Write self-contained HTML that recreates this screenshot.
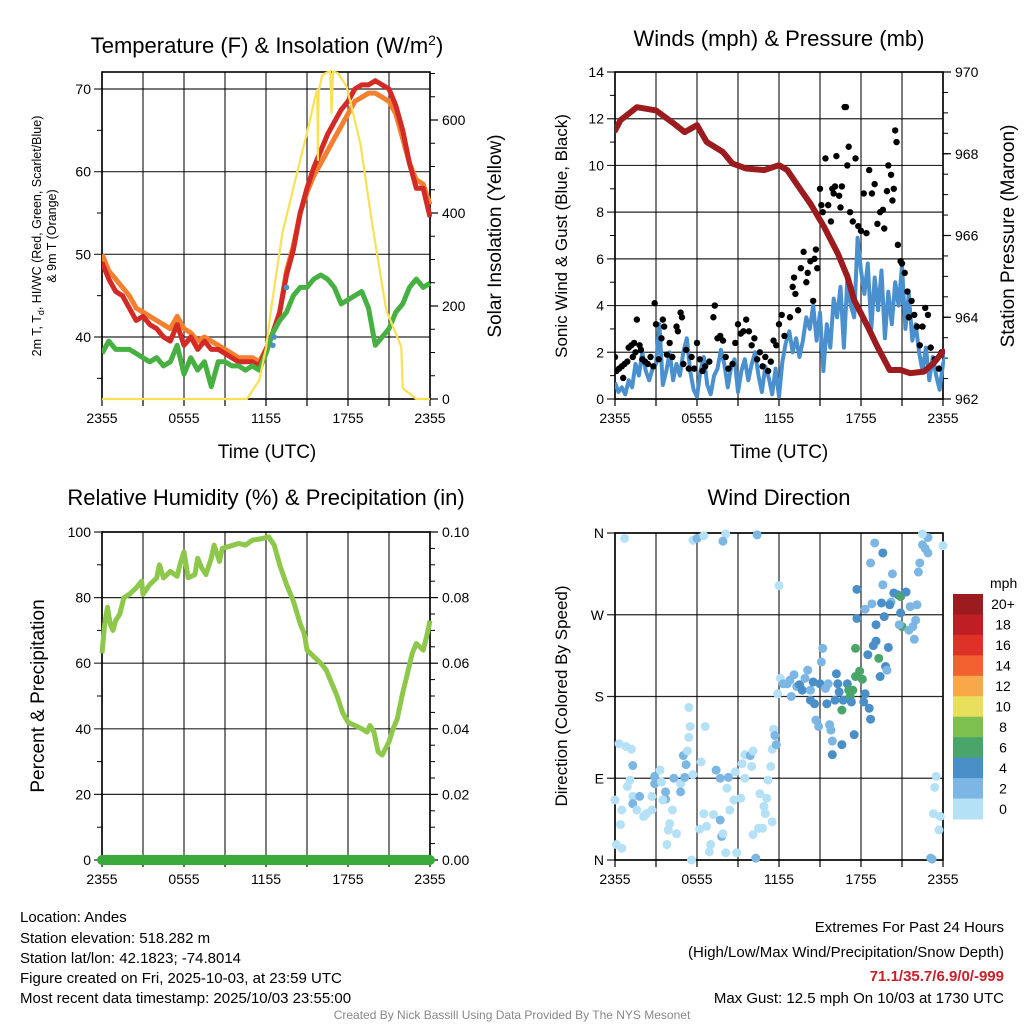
<!DOCTYPE html>
<html><head><meta charset="utf-8"><style>
html,body{margin:0;padding:0;background:#fff;}
svg{display:block;font-family:"Liberation Sans",Arial,sans-serif;}
</style></head><body>
<svg id="c" width="1024" height="1024" viewBox="0 0 1024 1024">
<rect width="1024" height="1024" fill="#fff"/>
<text x="267" y="53" font-size="22" text-anchor="middle">Temperature (F) &amp; Insolation (W/m<tspan dy="-8" font-size="14">2</tspan><tspan dy="8">)</tspan></text>
<text x="779" y="46" font-size="22" text-anchor="middle">Winds (mph) &amp; Pressure (mb)</text>
<text x="266" y="505" font-size="22" text-anchor="middle">Relative Humidity (%) &amp; Precipitation (in)</text>
<text x="779" y="505" font-size="22" text-anchor="middle">Wind Direction</text>
<text transform="translate(41,236) rotate(-90)" font-size="12.5" text-anchor="middle">2m T, T<tspan dy="3" font-size="9">d</tspan><tspan dy="-3">, HI/WC (Red, Green, Scarlet/Blue)</tspan></text>
<text transform="translate(56,236) rotate(-90)" font-size="12.5" text-anchor="middle">&amp; 9m T (Orange)</text>
<text transform="translate(501,236) rotate(-90)" font-size="19" text-anchor="middle">Solar Insolation (Yellow)</text>
<text transform="translate(567,236) rotate(-90)" font-size="17" text-anchor="middle">Sonic Wind &amp; Gust (Blue, Black)</text>
<text transform="translate(1014,236) rotate(-90)" font-size="19" text-anchor="middle">Station Pressure (Maroon)</text>
<text transform="translate(44,696) rotate(-90)" font-size="19" text-anchor="middle">Percent &amp; Precipitation</text>
<text transform="translate(567,696) rotate(-90)" font-size="17" text-anchor="middle">Direction (Colored By Speed)</text>
<text x="267" y="458" font-size="19" text-anchor="middle">Time (UTC)</text>
<text x="779" y="458" font-size="19" text-anchor="middle">Time (UTC)</text>
<g font-size="15">
<text x="20" y="922">Location: Andes</text>
<text x="20" y="943">Station elevation: 518.282 m</text>
<text x="20" y="963">Station lat/lon: 42.1823; -74.8014</text>
<text x="20" y="983">Figure created on Fri, 2025-10-03, at 23:59 UTC</text>
<text x="20" y="1003">Most recent data timestamp: 2025/10/03 23:55:00</text>
</g>
<g font-size="15" text-anchor="end">
<text x="1004" y="932">Extremes For Past 24 Hours</text>
<text x="1004" y="957">(High/Low/Max Wind/Precipitation/Snow Depth)</text>
<text x="1004" y="981" fill="#c8202a" font-weight="bold">71.1/35.7/6.9/0/-999</text>
<text x="1004" y="1003">Max Gust: 12.5 mph On 10/03 at 1730 UTC</text>
</g>
<text x="512" y="1019" font-size="12" fill="#888" text-anchor="middle">Created By Nick Bassill Using Data Provided By The NYS Mesonet</text>
</svg>
<script>
// ---- data ----
const tHalf = [0,0.5,1,1.5,2,2.5,3,3.5,4,4.5,5,5.5,6,6.5,7,7.5,8,8.5,9,9.5,10,10.5,11,11.5,12,12.5,13,13.5,14,14.5,15,15.5,16,16.5,17,17.5,18,18.5,19,19.5,20,20.5,21,21.5,22,22.5,23,23.5,24];
const temp2m = [49,47,45.5,45,43.5,42,42.5,41.5,41,40,39.5,41.5,39,40,38.5,39.5,38.5,38.5,38,37.5,37,37,37,36.5,38.5,40.5,43,47.5,50.5,55,58,60.5,62.5,64.5,66,67.5,68.5,70,70.5,70.5,71,70.5,70,68,65,61,58,58,54.5];
const temp9m = [50,48,47,46,45,43.5,43,42.5,42,41.5,41,42.5,41,40.5,39.5,40,39.5,39,38.5,38,37.5,37.5,37.5,37,38.5,40.5,43,48,51,55,57.5,59.5,61,62.5,64,65.5,67,68.5,69,69.5,69.5,69,68.5,67,64,61,59,58.5,56];
const dewpt = [38,39.5,38.5,38.5,38.5,38,37.5,37,37.5,36.5,37,39,35.5,37.5,36,37,34,37,37,36.5,36.5,36,36.5,36,38,40.5,42,43,45,46,46,47,47.5,47,46,44,44.5,45,45.5,43.5,39,40,41,43,44,46,47,46,46.5];
const hiT = [12.5,12.6,13.5];
const hiV = [39,40,46];
const solT = [0,10.6,11.5,12,12.4,13.2,14.2,15,15.6,15.75,15.8,15.85,16.1,16.3,16.7,16.8,16.9,17.3,17.9,18.9,19.8,20.8,21.9,22,23,24];
const solV = [0,0,40,110,200,357,478,572,650,665,514,660,695,700,705,615,705,700,672,550,371,191,112,23,0,0];
const windV = [0.7,0.3,0.5,0.2,0.8,0.5,1.5,1.0,2.0,1.2,0.8,1.3,1.5,3.2,0.6,1.2,2.0,0.8,1.5,1.0,2.0,2.6,1.2,0.4,0.1,1.2,1.8,0.6,0.2,1.0,1.3,2.1,1.5,0.5,1.4,1.7,0.3,1.2,1.7,0.8,1.5,2.0,1.0,0.3,1.4,0.9,0.2,1.3,0.1,1.6,2.4,2.9,2.0,2.6,1.8,2.5,3.5,3.0,4.0,2.5,3.7,1.2,3.2,2.2,4.3,3.5,4.8,2.2,5.1,4.0,3.5,6.9,5.5,4.5,5.8,3.0,5.2,3.8,5.5,2.6,4.6,3.2,5.0,4.0,5.7,3.0,4.5,2.5,3.2,2.0,1.2,2.2,0.8,1.8,1.0,0.4,1.5,1.9];
const gustT = [0,0.1,0.3,0.5,0.6,0.7,0.9,1.0,1.2,1.3,1.4,1.5,1.6,1.8,1.9,2.0,2.2,2.4,2.6,2.8,2.9,3.0,3.2,3.4,3.5,3.6,3.8,4.0,4.2,4.5,4.6,4.8,4.9,5.0,5.2,5.4,5.6,5.8,6.0,6.2,6.4,6.6,6.9,7.2,7.3,7.5,7.7,7.9,8.1,8.3,8.6,8.8,9.0,9.2,9.4,9.6,9.8,10.0,10.2,10.4,10.6,10.8,11.0,11.2,11.4,11.6,11.8,12.0,12.2,12.4,12.8,13.0,13.1,13.2,13.4,13.6,13.8,14.0,14.1,14.3,14.5,14.6,14.7,14.8,15.0,15.1,15.2,15.4,15.6,15.8,15.9,16.0,16.1,16.2,16.4,16.5,16.6,16.8,16.9,17.0,17.1,17.2,17.4,17.6,17.8,18.0,18.2,18.4,18.6,18.8,19.0,19.2,19.4,19.6,19.7,19.9,20.0,20.2,20.3,20.4,20.5,20.6,20.7,20.9,21.0,21.2,21.4,21.5,21.7,21.9,22.1,22.3,22.5,22.7,22.9,23.1,23.4,23.7,23.9];
const gustV = [1.8,1.2,1.3,1.4,0.9,1.5,1.6,2.2,2.3,1.8,2.4,2.0,3.4,2.3,2.1,1.7,1.6,1.5,1.8,1.4,4.1,3.2,1.7,2.6,3.4,3.1,1.9,2.4,1.8,3.1,2.9,3.7,3.5,1.5,2.1,1.3,1.8,1.3,2.4,1.7,1.2,1.4,1.6,3.5,4.0,2.6,2.7,2.5,1.8,1.3,1.5,2.4,3.2,2.8,2.9,3.4,2.9,2.3,2.6,1.7,2.0,1.4,1.8,1.2,1.6,2.5,2.3,3.2,3.6,2.7,3.5,4.8,5.2,4.5,3.8,5.6,6.3,5.0,5.4,5.9,4.2,6.0,6.4,5.6,9.0,8.3,8.0,10.3,8.3,7.6,9.0,8.8,9.1,10.4,8.7,8.2,9.1,12.5,12.5,10.0,10.8,8.0,7.6,10.3,7.4,7.2,8.8,7.1,9.8,8.8,9.2,7.5,8.0,8.1,7.3,8.9,10.0,9.6,8.5,9.0,11.5,11.0,6.6,5.9,5.8,5.4,4.6,3.5,4.2,3.6,3.1,2.3,3.1,3.9,3.6,2.2,1.7,1.3,2.0];
const presT = [0,0.4,1.6,3,4.3,5.1,6,6.7,7.9,8.6,9.6,10.9,12,12.6,13.6,14.3,15.3,16.3,17,17.5,18.5,19.2,20.1,20.9,21.6,22.6,23.3,24];
const presV = [968.57,968.82,969.14,969.06,968.74,968.53,968.7,968.29,968.04,967.76,967.64,967.6,967.72,967.6,967.11,966.78,966.21,965.56,965,964.42,963.77,963.28,962.71,962.71,962.63,962.67,962.87,963.16];
const rhT = [0,0.2,0.4,0.6,0.8,1,1.3,1.6,2,2.5,2.9,3,3.5,4,4.2,4.5,5,5.5,5.7,6,6.3,6.8,7,7.3,7.6,8,8.2,8.6,8.8,9.2,10,10.5,11,11.7,12.2,12.6,13,13.5,14,14.5,14.8,15,15.5,16,16.4,16.7,17.2,17.6,18,18.5,19,19.4,19.6,19.9,20.2,20.5,21,21.3,21.6,22,22.3,22.7,23,23.5,23.8,24];
const rhV = [63,72,77,72,70,73,75,80,81,83,85,81,84,86,90,86,88,86.5,90,94,86,87,92,89,87,92,96,91,95,95.5,96.5,96,97.5,98,98.5,96,90,84,79,72,69,64,62,60,58,55,50,45,42,41,40,39,41,39,33,32,36,40,43,51,56,63,66,64,69,73];
const precipT = [0,24];
const precipV = [0,0];
const dirT = [
0.7,5.7,6,6.5,8.1,10.4,7.9,12,0.3,0.8,
1.2,1.3,1.1,0.9,0,0.4,0.5,0.1,0.5,1.3,
1.8,1.3,1.6,2.1,2.3,2.7,2.7,2.9,2.9,3.3,
3.4,3.7,3.7,3.5,4.2,4.0,3.9,4.5,3.8,4.3,
4.8,4.8,5.0,5.2,5.3,5.4,5.5,5.4,5.1,5.7,
6.2,6.5,6.7,6.6,6.3,5.6,6.9,7.0,7.2,7.4,
7.7,7.8,7.9,8.1,7.7,8.3,8.2,8.4,8.7,8.9,
9.2,8.8,9.3,9.5,9.9,10.1,9.5,10,10.3,10.1,
10.5,10.8,10.6,10.9,11.1,11.0,11.5,11.2,11.4,11.5,
11.8,11.6,11.7,12.1,11.9,12.3,12.6,12.8,13.1,12.9,
13.3,13.5,13.7,13.9,14.1,14.3,14.3,14.5,14.6,14.7,
14.9,15,15.1,15.2,15.4,15.5,15.6,15.7,15.8,15.9,
15.9,16.1,16.2,16.3,16.4,16.6,16.6,16.7,17,17.1,
17.2,17.3,17.4,17.5,17.6,17.6,17.9,18.1,18.2,18.3,
18.5,18.6,18.7,18.9,19.1,19.1,19.3,19.4,19.8,19.9,
20,17.7,17.7,18.3,18.8,19.5,19.7,19.6,20.3,20.4,
20.7,20.9,21,21.3,20.9,21.5,21.8,22,21.9,21.6,
22.1,20.8,20.2,20.1,18.7,19,19.6,22.2,22.3,22.5,
22.7,22.9,22.9,22.5,24,23.5,23.4,23.3,23.8,23.7,
23.1,23.2];
const dirDeg = [
354,352,354,357,359,358,351,302,128,125,
122,104,88,81,66,39,55,17,13,70,
70,62,55,48,51,55,70,92,84,99,
86,75,67,66,55,40,33,29,17,90,
84,75,115,105,120,135,147,168,91,94,
34,51,37,147,108,0,9,17,50,99,
44,26,29,8,90,91,79,55,66,8,
68,97,106,116,115,120,90,103,2,28,
35,35,73,59,68,51,42,88,103,122,
127,144,137,200,183,194,194,198,204,180,
191,193,187,200,209,187,176,196,172,154,
147,194,218,233,189,172,194,149,143,131,
116,176,205,194,185,165,127,176,194,187,
180,174,187,138,233,202,208,199,174,183,
226,167,155,236,241,259,222,202,213,209,
234,266,298,276,282,283,268,303,315,294,
292,290,257,295,272,253,257,264,243,279,
281,259,284,281,327,349,338,317,327,347,
343,338,355,359,346,92,80,51,48,33,
2,1];
const dirSpd = [
1,1,3,1,1,3,3,1,1,1,
1,3,1,1,1,1,1,1,1,1,
3,3,1,1,1,1,1,3,3,1,
1,3,3,1,1,1,1,1,1,3,
1,3,3,3,1,1,1,1,3,1,
1,1,1,1,1,1,1,1,1,3,
3,3,1,1,3,3,1,1,1,1,
1,1,1,1,3,1,1,1,3,1,
1,1,1,1,1,1,1,1,1,1,
3,1,3,1,1,3,3,3,3,3,
3,5,5,3,3,3,5,5,5,3,
3,5,3,3,3,5,3,3,3,3,
5,5,5,5,5,7,5,5,5,7,
7,5,7,5,7,7,7,7,5,5,
5,5,5,5,5,5,7,5,5,3,
5,5,5,3,3,5,5,3,3,5,
5,7,7,5,5,3,3,3,3,3,
3,3,3,5,3,3,5,3,3,3,
3,3,3,1,1,1,1,1,1,1,
3,3];
const cbLabels = ["20+","18","16","14","12","10","8","6","4","2","0"];
const cbColors = ["#9b1b1e","#be1e24","#de3128","#f26130","#f7a94a","#e8e05c","#7dc04f","#4aa56a","#4a8fc7","#7cb6e3","#b5e1f7"];
const timeLabels = ["2355","0555","1155","1755","2355"];

// ---- helpers ----
const NS='http://www.w3.org/2000/svg';
const svg=document.getElementById('c');
function mk(tag,attrs,parent){const e=document.createElementNS(NS,tag);for(const k in attrs)e.setAttribute(k,attrs[k]);(parent||svg).appendChild(e);return e;}
function lin(d0,d1,r0,r1){return v=>r0+(v-d0)*(r1-r0)/(d1-d0);}
function path(xs,ys,sx,sy){return xs.map((t,i)=>(i?'L':'M')+sx(t).toFixed(1)+','+sy(ys[i]).toFixed(1)).join('');}
function spdColor(s){if(s===undefined||isNaN(s))s=1;const i=Math.max(0,Math.min(10,Math.floor(s/2)));return cbColors[10-i];}

function frame(name,x0,x1,y0,y1,sx,yticksL,syL,minorL,labL,yticksR,syR,minorR,labR){
  const g=mk('g',{});
  
  
  for(let h=0;h<=24;h+=3){const x=sx(h);
    const l=mk('line',{x1:x,x2:x,y1:y0,y2:y1,stroke:'#000','stroke-width':1.2,'stroke-opacity':0.85},g);
    
    mk('line',{x1:x,x2:x,y1:y1,y2:y1+7,stroke:'#000','stroke-width':1.2},g);}
  yticksL.forEach((v,i)=>{const y=syL(v);
    const l=mk('line',{x1:x0-8,x2:x1,y1:y,y2:y,stroke:'#000','stroke-width':1.2,'stroke-opacity':0.85},g);
    
    const t=mk('text',{x:x0-11,y:y+5,'font-size':14,'text-anchor':'end'},g);t.textContent=labL[i];
    });
  minorL.forEach(v=>{const y=syL(v);mk('line',{x1:x0-5,x2:x0,y1:y,y2:y,stroke:'#000','stroke-width':1},g);});
  if(yticksR){yticksR.forEach((v,i)=>{const y=syR(v);
    mk('line',{x1:x1,x2:x1+8,y1:y,y2:y,stroke:'#000','stroke-width':1.2},g);
    const t=mk('text',{x:x1+12,y:y+5,'font-size':14},g);t.textContent=labR[i];
    });
    minorR.forEach(v=>{const y=syR(v);mk('line',{x1:x1,x2:x1+5,y1:y,y2:y,stroke:'#000','stroke-width':1},g);});}
  mk('rect',{x:x0,y:y0,width:x1-x0,height:y1-y0,fill:'none',stroke:'#000','stroke-width':1.6},g);
  timeLabels.forEach((s,i)=>{const t=mk('text',{x:sx(i*6),y:y1+24,'font-size':14,'text-anchor':'middle'},g);t.textContent=s;
    });
}
function rng(a,b,s){const r=[];for(let v=a;v<=b+1e-9;v+=s)r.push(+v.toFixed(3));return r;}

// ---- panel 1: temperature ----
const P1={x0:102,x1:430,y0:72,y1:399};
const sx1=lin(0,24,P1.x0,P1.x1), sy1=lin(40,70,337,89), sySol=lin(0,600,399,120);
frame('temperature',P1.x0,P1.x1,P1.y0,P1.y1,sx1,[40,50,60,70],sy1,[35,45,55,65],['40','50','60','70'],[0,200,400,600],sySol,rng(50,700,50),['0','200','400','600']);
const cl1=mk('clipPath',{id:'cp1'});mk('rect',{x:P1.x0,y:P1.y0-2,width:P1.x1-P1.x0+2,height:P1.y1-P1.y0+4},cl1);
const g1=mk('g',{'clip-path':'url(#cp1)'});
let e;
e=mk('path',{d:path(tHalf,temp9m,sx1,sy1),fill:'none',stroke:'#f37f2f','stroke-width':5,'stroke-linejoin':'round'},g1);

e=mk('path',{d:path(tHalf,temp2m,sx1,sy1),fill:'none',stroke:'#d42a26','stroke-width':5,'stroke-linejoin':'round'},g1);

e=mk('path',{d:path(tHalf,dewpt,sx1,sy1),fill:'none',stroke:'#46b041','stroke-width':5,'stroke-linejoin':'round'},g1);

hiT.forEach((t,i)=>{const c=mk('circle',{cx:sx1(t),cy:sy1(hiV[i]),r:2.8,fill:'#4a90cf'},g1);
  });
e=mk('path',{d:path(solT,solV,sx1,sySol),fill:'none',stroke:'#f9e055','stroke-width':2.2,'stroke-linejoin':'round'},g1);


// ---- panel 2: winds ----
const P2={x0:615,x1:943,y0:72,y1:399};
const sx2=lin(0,24,P2.x0,P2.x1), sy2=lin(0,14,399,72), syP=lin(962,970,399,72);
frame('winds',P2.x0,P2.x1,P2.y0,P2.y1,sx2,[0,2,4,6,8,10,12,14],sy2,[1,3,5,7,9,11,13],['0','2','4','6','8','10','12','14'],[962,964,966,968,970],syP,rng(962.5,969.5,0.5),['962','964','966','968','970']);
const cl2=mk('clipPath',{id:'cp2'});mk('rect',{x:P2.x0,y:P2.y0-2,width:P2.x1-P2.x0+2,height:P2.y1-P2.y0+4},cl2);
const g2=mk('g',{'clip-path':'url(#cp2)'});
const windT=windV.map((v,i)=>i*0.25);
e=mk('path',{d:path(windT,windV,sx2,sy2),fill:'none',stroke:'#4a90cf','stroke-width':4,'stroke-linejoin':'round'},g2);

gustT.forEach((t,i)=>{const c=mk('circle',{cx:sx2(t),cy:sy2(gustV[i]),r:3.2,fill:'#000'},g2);
  });
e=mk('path',{d:path(presT,presV,sx2,syP),fill:'none',stroke:'#9b1b1e','stroke-width':6,'stroke-linejoin':'round','stroke-linecap':'round'},g2);


// ---- panel 3: humidity ----
const P3={x0:102,x1:430,y0:532,y1:860};
const sx3=lin(0,24,P3.x0,P3.x1), sy3=lin(0,100,860,532);
frame('humidity',P3.x0,P3.x1,P3.y0,P3.y1,sx3,[0,20,40,60,80,100],sy3,[10,30,50,70,90],['0','20','40','60','80','100'],[0,20,40,60,80,100],sy3,[5,10,15,25,30,35,45,50,55,65,70,75,85,90,95],['0.00','0.02','0.04','0.06','0.08','0.10']);
e=mk('path',{d:path(rhT,rhV,sx3,sy3),fill:'none',stroke:'#8dc84b','stroke-width':5,'stroke-linejoin':'round'});

e=mk('path',{d:path(precipT,precipV.map(v=>v*1000),sx3,sy3),fill:'none',stroke:'#3aaa3a','stroke-width':10,'stroke-linecap':'round'});


// ---- panel 4: wind direction ----
const P4={x0:615,x1:943,y0:533,y1:860};
const sx4=lin(0,24,P4.x0,P4.x1), sy4=lin(0,360,860,533);
frame('wind-direction',P4.x0,P4.x1,P4.y0,P4.y1,sx4,[0,90,180,270,360],sy4,[],['N','E','S','W','N'],null);
const cl4=mk('clipPath',{id:'cp4'});mk('rect',{x:P4.x0-5,y:P4.y0-6,width:P4.x1-P4.x0+10,height:P4.y1-P4.y0+12},cl4);
const g4=mk('g',{'clip-path':'url(#cp4)'});
dirT.forEach((t,i)=>{const c=mk('circle',{cx:sx4(t),cy:sy4(dirDeg[i]),r:4.5,fill:spdColor(dirSpd[i])},g4);
  });
// colorbar
const cb=mk('g',{});


const cbT=mk('text',{x:990,y:588,'font-size':14},cb);cbT.textContent='mph';
const boxH=(819-594)/11;
cbColors.forEach((col,i)=>{const r=mk('rect',{x:953,y:594+i*boxH,width:30,height:boxH+0.5,fill:col},cb);
  
  const t=mk('text',{x:1003,y:594+i*boxH+boxH/2+5,'font-size':14,'text-anchor':'middle'},cb);t.textContent=cbLabels[i];
  });
</script>
</body></html>
